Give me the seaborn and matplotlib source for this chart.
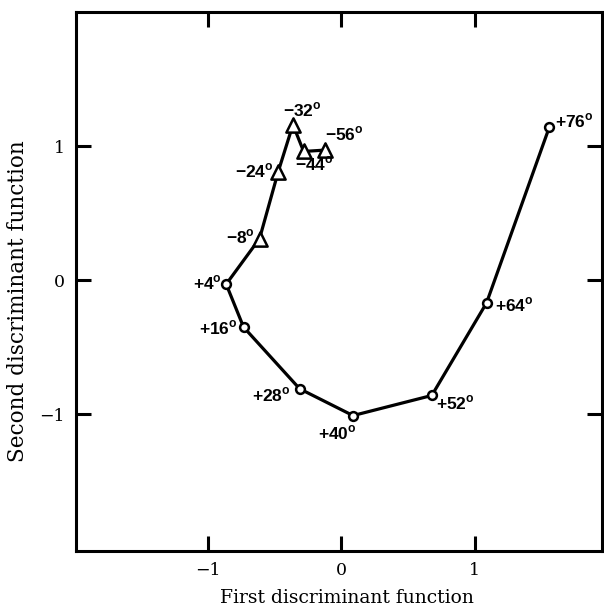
import numpy as np
import pandas as pd
import seaborn as sns
import matplotlib.pyplot as plt

# discriminant scores, ordered by angle
angles = [-56, -44, -32, -24, -8, 4, 16, 28, 40, 52, 64, 76]
first_fn = [-0.12, -0.28, -0.36, -0.47, -0.61, -0.86, -0.73, -0.31, 0.09, 0.68, 1.09, 1.56]
second_fn = [0.97, 0.96, 1.16, 0.81, 0.31, -0.03, -0.35, -0.81, -1.01, -0.86, -0.17, 1.14]

# label placement (offset in pixels, horizontal alignment)
label_pos = {
    -56: (19, 16, 'center'), -44: (11, -13, 'center'), -32: (9, 15, 'center'),
    -24: (-5, 1, 'right'), -8: (-5, 2, 'right'), 4: (-4, 1, 'right'),
    16: (-6, -1, 'right'), 28: (-9, -6, 'right'), 40: (-16, -17, 'center'),
    52: (4, -7, 'left'), 64: (8, -2, 'left'), 76: (6, 6, 'left'),
}

df = pd.DataFrame({'first': first_fn, 'second': second_fn, 'angle': angles})
df['group'] = np.where(df['angle'] < 0, 'neg', 'pos')

sns.set_style('ticks')
plt.rcParams['mathtext.fontset'] = 'custom'
plt.rcParams['mathtext.rm'] = 'Liberation Sans:bold'
plt.rcParams['mathtext.bf'] = 'Liberation Sans:bold'
for k in ['axes.edgecolor', 'axes.labelcolor', 'xtick.color', 'ytick.color', 'text.color']:
    plt.rcParams[k] = 'black'

fig = plt.figure(figsize=(6.04, 6.10), dpi=100)
ax = fig.add_axes([76/604, 1-551/610, (602-76)/604, (551-12)/610])

sns.lineplot(data=df, x='first', y='second', sort=False, color='black', lw=2.3, ax=ax, zorder=2)
sns.scatterplot(data=df[df['group'] == 'neg'], x='first', y='second', marker='^', s=105,
                facecolor='white', edgecolor='black', linewidth=1.8, ax=ax, zorder=3)
sns.scatterplot(data=df[df['group'] == 'pos'], x='first', y='second', marker='o', s=40,
                facecolor='white', edgecolor='black', linewidth=1.8, ax=ax, zorder=3)

for a, xv, yv in zip(angles, first_fn, second_fn):
    dx, dy, ha = label_pos[a]
    txt = ('+' if a > 0 else '\u2212') + str(abs(a)) + r'$^{\mathbf{o}}$'
    ax.annotate(txt, (xv, yv), xytext=(dx, dy), textcoords='offset pixels',
                ha=ha, va='center', fontsize=12.5, fontweight='bold',
                family='Liberation Sans')

ax.set_xlim(-1.985, 1.955)
ax.set_ylim(-2.02, 2.0)
ax.set_xticks([-1, 0, 1])
ax.set_yticks([-1, 0, 1])
ax.set_xticklabels(['\u22121', '0', '1'], family='DejaVu Serif', fontsize=12.5)
ax.set_yticklabels(['\u22121', '0', '1'], family='DejaVu Serif', fontsize=12.5)
ax.tick_params(direction='in', length=10.5, width=2.2, top=True, right=True, pad=8)
for sp in ax.spines.values():
    sp.set_linewidth(2.2)

ax.set_xlabel('First discriminant function', family='DejaVu Serif', fontsize=13.5)
ax.set_ylabel('Second discriminant function', family='DejaVu Serif', fontsize=15.5)
ax.xaxis.set_label_coords(0.515, -0.070)
ax.yaxis.set_label_coords(-0.089, 0.464)

fig.savefig('out.png', dpi=100, facecolor='white')
